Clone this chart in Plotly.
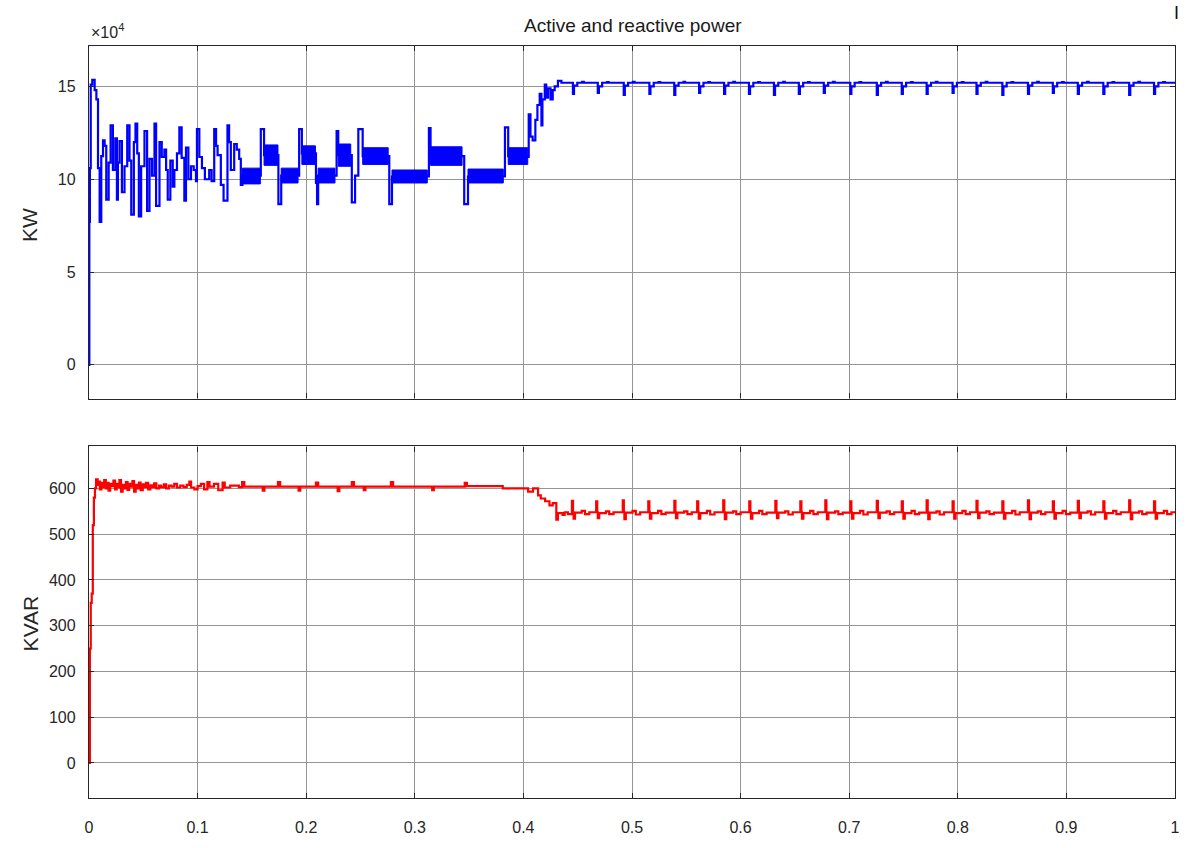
import plotly.graph_objects as go

# ---------------- data ----------------
# Active power, values in units of 1e4 kW, (time s, value)
active_pts = [
    (0.0000, 0.0), (0.0003, 7.7), (0.0008, 10.6), (0.0016, 15.1), (0.0030, 15.35),
    (0.0052, 14.8), (0.0068, 14.3), (0.0083, 10.6), (0.0098, 7.7), (0.0113, 11.25),
    (0.0129, 12.1), (0.0144, 11.8), (0.0159, 8.9), (0.0181, 10.9), (0.0199, 12.9),
    (0.0220, 10.5), (0.0242, 12.2), (0.0257, 8.9), (0.0266, 10.9), (0.0281, 12.05),
    (0.0303, 9.3), (0.0327, 10.7), (0.0352, 12.9), (0.0373, 11.0), (0.0389, 8.1),
    (0.0413, 12.0), (0.0428, 13.0), (0.0444, 11.4), (0.0459, 8.0), (0.0480, 10.7),
    (0.0511, 12.6), (0.0535, 8.3), (0.0557, 11.1), (0.0580, 10.2), (0.0603, 13.0),
    (0.0618, 8.57), (0.0649, 12.0), (0.0670, 11.2), (0.0694, 11.6), (0.0710, 10.5),
    (0.0725, 8.9), (0.0749, 11.0), (0.0771, 9.6), (0.0786, 10.5), (0.0810, 11.4),
    (0.0832, 12.8), (0.0853, 11.15), (0.0878, 8.85), (0.0893, 11.7), (0.0915, 10.0),
    (0.0939, 10.7), (0.0964, 10.5), (0.0985, 9.9), (0.0994, 12.7), (0.1016, 11.2),
    (0.1040, 10.6), (0.1067, 10.0), (0.1107, 10.5), (0.1129, 9.9), (0.1153, 12.7),
    (0.1170, 11.8), (0.1184, 11.3), (0.1214, 9.7), (0.1239, 8.85), (0.1275, 12.9),
    (0.1290, 12.0), (0.1306, 10.5), (0.1337, 11.9), (0.1361, 11.6), (0.1383, 11.1),
    (0.1398, 9.7), (0.1413, 10.2), (0.1582, 12.7), (0.1612, 11.3), (0.1744, 8.66),
    (0.1770, 10.2), (0.1935, 12.7), (0.1960, 11.4), (0.2090, 9.8), (0.2100, 8.66),
    (0.2110, 10.2), (0.2280, 12.6), (0.2295, 11.3), (0.2420, 8.75), (0.2450, 10.2),
    (0.2480, 12.7), (0.2520, 11.25), (0.2765, 8.66), (0.2790, 10.15), (0.3130, 12.75),
    (0.3145, 11.25), (0.3455, 8.66), (0.3490, 10.15), (0.3830, 12.8), (0.3860, 11.25),
    (0.4040, 11.2), (0.4049, 13.5), (0.4065, 12.3), (0.4085, 12.1), (0.4110, 13.2),
    (0.4129, 14.0), (0.4150, 14.6), (0.4166, 12.9), (0.4175, 14.3), (0.4197, 15.1),
    (0.4210, 14.4), (0.4227, 14.9), (0.4250, 14.3), (0.4270, 14.8), (0.4288, 15.0),
    (0.4318, 15.3), (0.4350, 15.2),
    (0.4456, 14.6), (0.4466, 15.05), (0.4496, 15.2), (0.4541, 15.25), (0.4556, 15.2),
    (0.4685, 14.65), (0.4695, 15.0), (0.4725, 15.2), (0.4770, 15.24), (0.4785, 15.2),
    (0.4924, 14.55), (0.4934, 15.05), (0.4964, 15.2), (0.5009, 15.25), (0.5024, 15.2),
    (0.5160, 14.6), (0.5170, 15.0), (0.5200, 15.2), (0.5245, 15.24), (0.5260, 15.2),
    (0.5389, 14.55), (0.5399, 15.05), (0.5429, 15.2), (0.5474, 15.25), (0.5489, 15.2),
    (0.5618, 14.65), (0.5628, 15.0), (0.5658, 15.2), (0.5703, 15.24), (0.5718, 15.2),
    (0.5848, 14.6), (0.5858, 15.05), (0.5888, 15.2), (0.5933, 15.25), (0.5948, 15.2),
    (0.6077, 14.6), (0.6087, 15.0), (0.6117, 15.2), (0.6162, 15.24), (0.6177, 15.2),
    (0.6307, 14.55), (0.6317, 15.05), (0.6347, 15.2), (0.6392, 15.25), (0.6407, 15.2),
    (0.6536, 14.6), (0.6546, 15.0), (0.6576, 15.2), (0.6621, 15.24), (0.6636, 15.2),
    (0.6766, 14.65), (0.6776, 15.05), (0.6806, 15.2), (0.6851, 15.25), (0.6866, 15.2),
    (0.7010, 14.6), (0.7020, 15.0), (0.7050, 15.2), (0.7095, 15.24), (0.7110, 15.2),
    (0.7254, 14.55), (0.7264, 15.05), (0.7294, 15.2), (0.7339, 15.25), (0.7354, 15.2),
    (0.7484, 14.6), (0.7494, 15.0), (0.7524, 15.2), (0.7569, 15.24), (0.7584, 15.2),
    (0.7713, 14.6), (0.7723, 15.05), (0.7753, 15.2), (0.7798, 15.25), (0.7813, 15.2),
    (0.7952, 14.65), (0.7962, 15.0), (0.7992, 15.2), (0.8037, 15.24), (0.8052, 15.2),
    (0.8172, 14.6), (0.8182, 15.05), (0.8212, 15.2), (0.8257, 15.25), (0.8272, 15.2),
    (0.8410, 14.55), (0.8420, 15.0), (0.8450, 15.2), (0.8495, 15.24), (0.8510, 15.2),
    (0.8646, 14.6), (0.8656, 15.05), (0.8686, 15.2), (0.8731, 15.25), (0.8746, 15.2),
    (0.8875, 14.65), (0.8885, 15.0), (0.8915, 15.2), (0.8960, 15.24), (0.8975, 15.2),
    (0.9105, 14.6), (0.9115, 15.05), (0.9145, 15.2), (0.9190, 15.25), (0.9205, 15.2),
    (0.9340, 14.6), (0.9350, 15.0), (0.9380, 15.2), (0.9425, 15.24), (0.9440, 15.2),
    (0.9578, 14.55), (0.9588, 15.05), (0.9618, 15.2), (0.9663, 15.25), (0.9678, 15.2),
    (0.9807, 14.6), (0.9817, 15.0), (0.9847, 15.2), (0.9892, 15.24), (0.9907, 15.2),
    (1.0000, 15.2),
]

# fast-switching bands of the active power: start, end, low, high (1e4 kW)
band_t0 = [0.1413, 0.1612, 0.1770, 0.1960, 0.2110, 0.2295, 0.2520, 0.2790, 0.3145, 0.3490, 0.3860]
band_t1 = [0.1578, 0.1740, 0.1925, 0.2085, 0.2265, 0.2410, 0.2755, 0.3115, 0.3435, 0.3815, 0.4040]
band_lo = [9.75, 10.75, 9.8, 10.8, 9.8, 10.7, 10.8, 9.8, 10.75, 9.8, 10.8]
band_hi = [10.6, 11.85, 10.6, 11.8, 10.6, 11.9, 11.7, 10.5, 11.75, 10.55, 11.7]

# Reactive power, KVAR, (time s, value)
reactive_pts = [
    (0.0000, 0), (0.0008, 250), (0.0016, 350), (0.0025, 370), (0.0035, 520),
    (0.0045, 580), (0.0055, 600), (0.0065, 620), (0.0080, 608), (0.0090, 615),
    (0.0100, 598), (0.0115, 612), (0.0125, 603), (0.0140, 618), (0.0155, 600),
    (0.0170, 612), (0.0180, 595), (0.0195, 610), (0.0210, 605), (0.0225, 617),
    (0.0240, 598), (0.0255, 610), (0.0265, 602), (0.0280, 618), (0.0295, 593),
    (0.0310, 608), (0.0325, 600), (0.0340, 614), (0.0355, 597), (0.0370, 610),
    (0.0385, 604), (0.0400, 616), (0.0415, 593), (0.0430, 608), (0.0445, 600),
    (0.0460, 613), (0.0475, 596), (0.0495, 609), (0.0510, 603), (0.0525, 612),
    (0.0545, 598), (0.0565, 607), (0.0580, 603), (0.0600, 611), (0.0620, 600),
    (0.0645, 606), (0.0665, 603), (0.0690, 609), (0.0710, 600), (0.0735, 606),
    (0.0760, 604), (0.0785, 610), (0.0810, 602), (0.0840, 606), (0.0870, 603),
    (0.0900, 608), (0.0924, 615), (0.0940, 602), (0.0970, 598), (0.1000, 605),
    (0.1030, 610), (0.1060, 598), (0.1090, 614), (0.1110, 604), (0.1150, 610),
    (0.1190, 596), (0.1230, 613), (0.1250, 602), (0.1300, 606), (0.1380, 603),
    (0.1410, 614), (0.1430, 604), (0.1600, 595), (0.1615, 604), (0.1740, 614),
    (0.1760, 604), (0.1930, 595), (0.1945, 604), (0.2090, 613), (0.2110, 604),
    (0.2290, 594), (0.2305, 604), (0.2420, 614), (0.2440, 604), (0.2530, 596),
    (0.2545, 604), (0.2780, 614), (0.2800, 604), (0.3160, 596), (0.3175, 604),
    (0.3460, 612), (0.3480, 605), (0.3810, 600), (0.4043, 593), (0.4089, 600),
    (0.4135, 585), (0.4160, 578), (0.4200, 572), (0.4240, 563), (0.4270, 568),
    (0.4303, 532), (0.4318, 546), (0.4360, 542), (0.4380, 548), (0.4410, 544),
    (0.4447, 573), (0.4457, 548), (0.4462, 534), (0.4475, 547), (0.4537, 551), (0.4567, 544), (0.4607, 548),
    (0.4670, 572), (0.4680, 548), (0.4685, 535), (0.4698, 546), (0.4760, 550), (0.4790, 544), (0.4830, 548),
    (0.4915, 574), (0.4925, 548), (0.4930, 533), (0.4943, 547), (0.5005, 551), (0.5035, 543), (0.5075, 548),
    (0.5150, 572), (0.5160, 548), (0.5165, 534), (0.5178, 546), (0.5240, 551), (0.5270, 544), (0.5310, 547),
    (0.5390, 573), (0.5400, 548), (0.5405, 535), (0.5418, 547), (0.5480, 550), (0.5510, 544), (0.5550, 548),
    (0.5600, 572), (0.5610, 548), (0.5615, 534), (0.5628, 546), (0.5690, 551), (0.5720, 543), (0.5760, 548),
    (0.5840, 574), (0.5850, 548), (0.5855, 533), (0.5868, 547), (0.5930, 550), (0.5960, 544), (0.6000, 548),
    (0.6080, 572), (0.6090, 548), (0.6095, 534), (0.6108, 546), (0.6170, 551), (0.6200, 544), (0.6240, 547),
    (0.6320, 573), (0.6330, 548), (0.6335, 535), (0.6348, 547), (0.6410, 550), (0.6440, 543), (0.6480, 548),
    (0.6550, 572), (0.6560, 548), (0.6565, 534), (0.6578, 546), (0.6640, 551), (0.6670, 544), (0.6710, 548),
    (0.6780, 574), (0.6790, 548), (0.6795, 533), (0.6808, 547), (0.6870, 550), (0.6900, 544), (0.6940, 547),
    (0.7010, 572), (0.7020, 548), (0.7025, 534), (0.7038, 546), (0.7100, 551), (0.7130, 543), (0.7170, 548),
    (0.7254, 573), (0.7264, 548), (0.7269, 535), (0.7282, 547), (0.7344, 550), (0.7374, 544), (0.7414, 548),
    (0.7484, 572), (0.7494, 548), (0.7499, 534), (0.7512, 546), (0.7574, 551), (0.7604, 544), (0.7644, 547),
    (0.7713, 574), (0.7723, 548), (0.7728, 533), (0.7741, 547), (0.7803, 550), (0.7833, 543), (0.7873, 548),
    (0.7952, 572), (0.7962, 548), (0.7967, 534), (0.7980, 546), (0.8042, 551), (0.8072, 544), (0.8112, 548),
    (0.8172, 573), (0.8182, 548), (0.8187, 535), (0.8200, 547), (0.8262, 550), (0.8292, 544), (0.8332, 547),
    (0.8410, 572), (0.8420, 548), (0.8425, 534), (0.8438, 546), (0.8500, 551), (0.8530, 543), (0.8570, 548),
    (0.8646, 574), (0.8656, 548), (0.8661, 533), (0.8674, 547), (0.8736, 550), (0.8766, 544), (0.8806, 548),
    (0.8875, 572), (0.8885, 548), (0.8890, 534), (0.8903, 546), (0.8965, 551), (0.8995, 544), (0.9035, 547),
    (0.9105, 573), (0.9115, 548), (0.9120, 535), (0.9133, 547), (0.9195, 550), (0.9225, 543), (0.9265, 548),
    (0.9340, 572), (0.9350, 548), (0.9355, 534), (0.9368, 546), (0.9430, 551), (0.9460, 544), (0.9500, 548),
    (0.9578, 574), (0.9588, 548), (0.9593, 533), (0.9606, 547), (0.9668, 550), (0.9698, 544), (0.9738, 547),
    (0.9807, 572), (0.9817, 548), (0.9822, 534), (0.9835, 546), (0.9897, 551), (0.9927, 544), (0.9967, 548),
    (1.0000, 546),
]

x_ticks = [0, 0.1, 0.2, 0.3, 0.4, 0.5, 0.6, 0.7, 0.8, 0.9, 1]
x_tick_text = ["0", "0.1", "0.2", "0.3", "0.4", "0.5", "0.6", "0.7", "0.8", "0.9", "1"]
kw_ticks = [0, 5, 10, 15]
kvar_ticks = [0, 100, 200, 300, 400, 500, 600]

TITLE = "Active and reactive power"
KW_LABEL = "KW"
KVAR_LABEL = "KVAR"

# ---------------- figure ----------------
W, H = 1192, 848
ML, MR, MT, MB = 89, 13, 46, 45
plot_h = H - MT - MB
top_dom = [(H - MB - 401) / plot_h, 1.0]
bot_dom = [0.0, (H - MB - 449) / plot_h]

BLUE = "#0000ff"
RED = "#ff0000"
AX = "#262626"
GRID = "#959595"
FONT = "Liberation Sans, Arial, Helvetica, sans-serif"

fig = go.Figure()

# bands (fast switching) drawn as filled areas
bx, by = [], []
for t0, t1, lo, hi in zip(band_t0, band_t1, band_lo, band_hi):
    bx += [t0, t1, t1, t0, t0, None]
    by += [lo, lo, hi, hi, lo, None]
fig.add_trace(go.Scatter(x=bx, y=by, mode="lines", fill="toself", fillcolor=BLUE,
                         line=dict(color=BLUE, width=1), xaxis="x", yaxis="y",
                         hoverinfo="skip", showlegend=False))

fig.add_trace(go.Scatter(x=[p[0] for p in active_pts], y=[p[1] for p in active_pts],
                         mode="lines", line=dict(color=BLUE, width=2.2, shape="hv"),
                         xaxis="x", yaxis="y", showlegend=False))

fig.add_trace(go.Scatter(x=[p[0] for p in reactive_pts], y=[p[1] for p in reactive_pts],
                         mode="lines", line=dict(color=RED, width=2.2, shape="hv"),
                         xaxis="x2", yaxis="y2", showlegend=False))

axis_common = dict(
    showline=True, linecolor=AX, linewidth=1.4, mirror="ticks",
    ticks="inside", ticklen=5, tickcolor=AX, tickwidth=1.2,
    showgrid=True, gridcolor=GRID, gridwidth=1.3, zeroline=False,
    tickfont=dict(family=FONT, size=16, color=AX),
)

fig.update_layout(
    width=W, height=H,
    margin=dict(l=ML, r=MR, t=MT, b=MB),
    paper_bgcolor="white", plot_bgcolor="white",
    xaxis=dict(domain=[0, 1], anchor="y", range=[0, 1], tickvals=x_ticks,
               showticklabels=False, **axis_common),
    yaxis=dict(domain=top_dom, anchor="x", range=[-1.82, 17.18], tickvals=kw_ticks,
               ticklabelstandoff=9, **axis_common),
    xaxis2=dict(domain=[0, 1], anchor="y2", range=[0, 1], tickvals=x_ticks,
                ticktext=x_tick_text, ticklabelstandoff=15, **axis_common),
    yaxis2=dict(domain=bot_dom, anchor="x2", range=[-76.5, 692], tickvals=kvar_ticks,
                ticklabelstandoff=9, **axis_common),
)


def px_x(px):
    return (px - ML) / (W - ML - MR)


def px_y(py):
    return (H - MB - py) / plot_h


fig.add_annotation(text=TITLE, xref="paper", yref="paper", x=px_x(635), y=px_y(25),
                   xanchor="center", yanchor="middle", showarrow=False,
                   font=dict(family=FONT, size=19, color="#1a1a1a"))
fig.add_annotation(text="\u00d710<sup>4</sup>", xref="paper", yref="paper", x=px_x(89), y=px_y(31),
                   xanchor="left", yanchor="middle", showarrow=False,
                   font=dict(family=FONT, size=16, color=AX))
fig.add_annotation(text=KW_LABEL, xref="paper", yref="paper", x=px_x(30), y=px_y(226),
                   xanchor="center", yanchor="middle", textangle=-90, showarrow=False,
                   font=dict(family=FONT, size=21, color=AX))
fig.add_annotation(text=KVAR_LABEL, xref="paper", yref="paper", x=px_x(30), y=px_y(627),
                   xanchor="center", yanchor="middle", textangle=-90, showarrow=False,
                   font=dict(family=FONT, size=21, color=AX))
fig.add_annotation(text="I", xref="paper", yref="paper", x=px_x(1181), y=px_y(13),
                   xanchor="center", yanchor="middle", showarrow=False,
                   font=dict(family=FONT, size=18, color="#111111"))

fig.write_html("out.html")
